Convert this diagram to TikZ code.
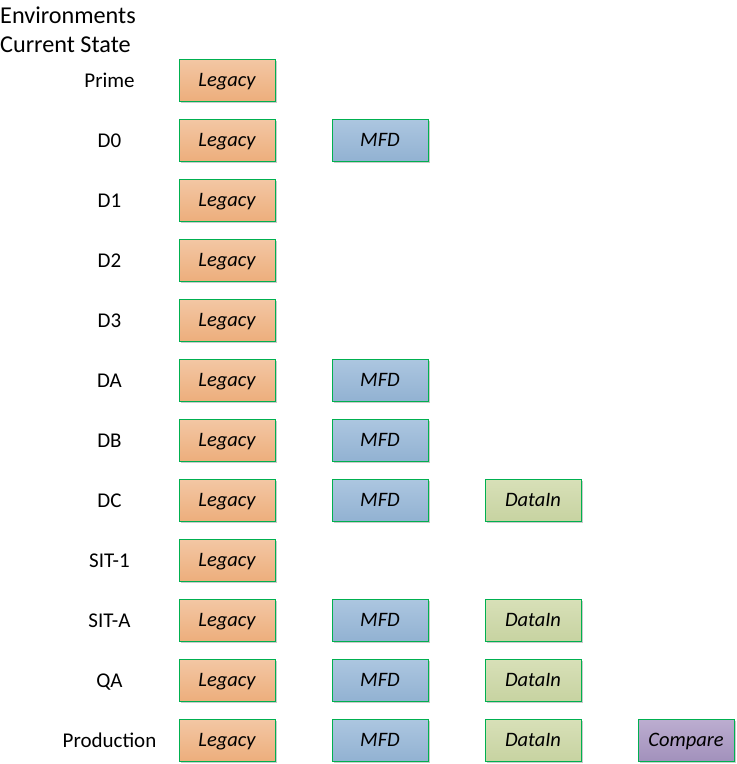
\documentclass[tikz,border=0pt]{standalone}
\usepackage{fontspec}
\setmainfont{Carlito}
\usetikzlibrary{shadows}
\definecolor{edgegreen}{HTML}{00B050}
\definecolor{legacytop}{HTML}{F3C7A4}
\definecolor{legacybot}{HTML}{EDAE7C}
\definecolor{mfdtop}{HTML}{ACC6E0}
\definecolor{mfdbot}{HTML}{92B2D2}
\definecolor{datatop}{HTML}{D8E0B8}
\definecolor{databot}{HTML}{C7D3A1}
\definecolor{cmptop}{HTML}{BCADD0}
\definecolor{cmpbot}{HTML}{A291BC}
\tikzset{
  x=1pt, y=-1pt,
  envbox/.style={draw=edgegreen, line width=0.9pt, minimum width=96pt, minimum height=42pt,
    inner sep=0pt, text height=13pt, text depth=0pt,
    font=\fontsize{20.5}{24}\selectfont\itshape,
    drop shadow={shadow xshift=2pt, shadow yshift=-2pt, opacity=0.35, fill=black!60}},
  legacy/.style={envbox, top color=legacytop, bottom color=legacybot},
  mfd/.style={envbox, top color=mfdtop, bottom color=mfdbot},
  datain/.style={envbox, top color=datatop, bottom color=databot},
  compare/.style={envbox, top color=cmptop, bottom color=cmpbot},
  envlabel/.style={font=\fontsize{21}{24}\selectfont, inner sep=0pt, text height=13.5pt, text depth=0pt},
}
\begin{document}
\begin{tikzpicture}
\useasboundingbox (0,0) rectangle (737,764);
\node[anchor=north west, align=left, inner sep=0pt, font=\fontsize{24.2}{29}\selectfont] (title) at (0,6.5) {Environments\\Current State};
\foreach \name/\txt/\k in {prime/Prime/0, d0/D0/1, d1/D1/2, d2/D2/3, d3/D3/4, da/DA/5, db/DB/6, dc/DC/7, sit1/SIT-1/8, sita/SIT-A/9, qa/QA/10, prod/Production/11} {
  \node[envlabel] (lab-\name) at (109.5, 80.5+60*\k) {\txt};
  \node[legacy] (leg-\name) at (227, 80+60*\k) {Legacy};
}
\foreach \name/\k in {d0/1, da/5, db/6, dc/7, sita/9, qa/10, prod/11}
  \node[mfd] (mfd-\name) at (380, 80+60*\k) {MFD};
\foreach \name/\k in {dc/7, sita/9, qa/10, prod/11}
  \node[datain] (din-\name) at (533, 80+60*\k) {DataIn};
\node[compare] (cmp-prod) at (686, 740) {Compare};
\end{tikzpicture}
\end{document}
